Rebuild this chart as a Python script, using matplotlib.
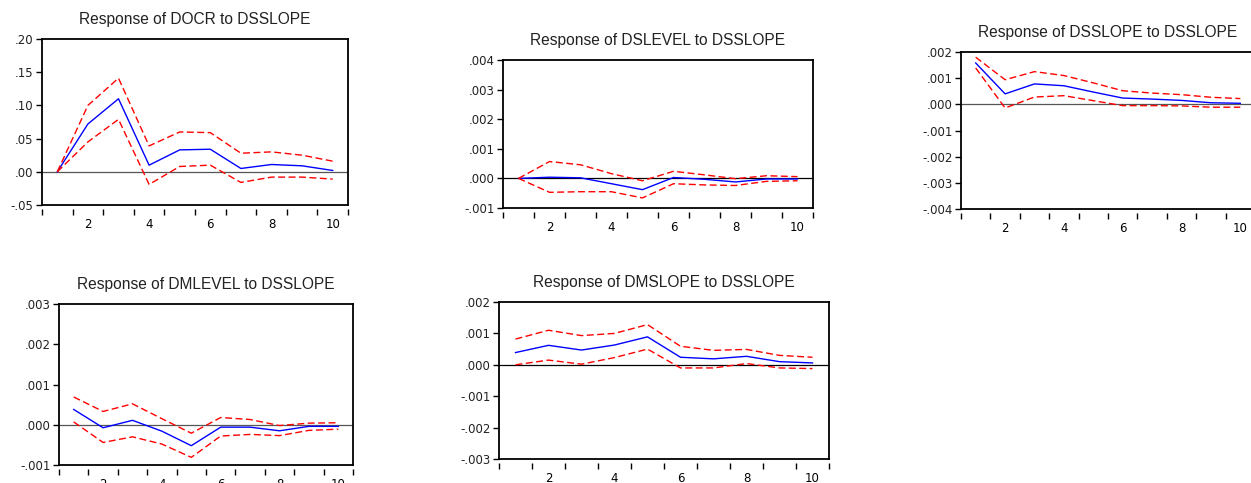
import matplotlib.pyplot as plt
import numpy
from matplotlib.ticker import FuncFormatter

periods = [1, 2, 3, 4, 5, 6, 7, 8, 9, 10]

# Response of DOCR to DSSLOPE
docrResp = [0.0, 0.072, 0.110, 0.010, 0.033, 0.034, 0.005, 0.011, 0.009, 0.002]
docrUpper = [0.0, 0.100, 0.141, 0.039, 0.060, 0.059, 0.028, 0.030, 0.025, 0.016]
docrLower = [0.0, 0.045, 0.079, -0.019, 0.008, 0.010, -0.016, -0.008, -0.008, -0.011]

# Response of DSLEVEL to DSSLOPE
dslevelResp = [0.0, 0.00004, 0.00002, -0.00018, -0.00038, 0.00003, -0.00003, -0.00012, -0.00002, -0.00002]
dslevelUpper = [0.0, 0.00057, 0.00046, 0.00016, -0.00008, 0.00024, 0.00012, -0.00001, 0.00009, 0.00006]
dslevelLower = [0.0, -0.00047, -0.00045, -0.00045, -0.00066, -0.00018, -0.00022, -0.00024, -0.00010, -0.00008]

# Response of DSSLOPE to DSSLOPE
dsslopeResp = [0.00158, 0.00040, 0.00078, 0.00071, 0.00047, 0.00024, 0.00020, 0.00015, 0.00006, 0.00004]
dsslopeUpper = [0.00180, 0.00094, 0.00125, 0.00110, 0.00082, 0.00052, 0.00043, 0.00037, 0.00027, 0.00022]
dsslopeLower = [0.00139, -0.00014, 0.00028, 0.00033, 0.00014, -0.00005, -0.00005, -0.00006, -0.00011, -0.00011]

# Response of DMLEVEL to DSSLOPE
dmlevelResp = [0.00038, -0.000075, 0.00011, -0.00016, -0.00052, -0.00006, -0.00006, -0.00015, -0.00004, -0.00004]
dmlevelUpper = [0.00069, 0.00033, 0.00052, 0.00015, -0.00021, 0.00018, 0.00013, -0.00002, 0.00004, 0.00005]
dmlevelLower = [0.00007, -0.00044, -0.00030, -0.00048, -0.00081, -0.00028, -0.00024, -0.00027, -0.00014, -0.00011]

# Response of DMSLOPE to DSSLOPE
dmslopeResp = [0.00039, 0.00062, 0.00047, 0.00063, 0.00089, 0.00024, 0.00019, 0.00027, 0.00010, 0.00006]
dmslopeUpper = [0.00082, 0.00110, 0.00093, 0.00100, 0.00128, 0.00059, 0.00046, 0.00049, 0.00030, 0.00024]
dmslopeLower = [0.0, 0.00015, 0.00002, 0.00023, 0.00050, -0.00010, -0.00010, 0.00004, -0.00010, -0.00012]

W, H = 1251.0, 483.0


def boxToRect(left, top, right, bottom):
    # pixel box -> figure fraction
    return [left / W, 1 - bottom / H, (right - left) / W, (bottom - top) / H]


def noLeadingZero(decimals):
    def fmt(v, pos):
        s = ('%.' + str(decimals) + 'f') % v
        if s.startswith('-0'):
            s = '-' + s[2:]
        elif s.startswith('0'):
            s = s[1:]
        return s
    return FuncFormatter(fmt)


def drawPanel(fig, box, title, resp, upper, lower, yticks, decimals, zeroColor='#555555'):
    ax = fig.add_axes(boxToRect(*box))
    ax.plot(periods, resp, color='#0000ff', lw=1.0, zorder=3)
    ax.plot(periods, upper, color='#ff0000', lw=1.0, ls=(0, (5, 2.5)), zorder=3)
    ax.plot(periods, lower, color='#ff0000', lw=1.0, ls=(0, (5, 2.5)), zorder=3)
    ax.axhline(0, color=zeroColor, lw=0.9, zorder=2)

    ax.set_xlim(0.5, 10.5)
    ax.set_ylim(yticks[0], yticks[-1])
    ax.set_yticks(yticks)
    ax.yaxis.set_major_formatter(noLeadingZero(decimals))

    ax.set_xticks([2, 4, 6, 8, 10])
    ax.set_xticks(numpy.arange(0.5, 11, 1.0), minor=True)
    ax.tick_params(axis='x', which='major', length=0, pad=6, labelsize=8.5)
    ax.tick_params(axis='x', which='minor', length=4, width=1, direction='out')
    ax.tick_params(axis='y', length=4, width=1, pad=2, labelsize=8.5)
    for lab in ax.get_xticklabels() + ax.get_yticklabels():
        lab.set_family('DejaVu Sans')
        lab.set_color('#222222')

    # frame drawn separately so the x ticks sit just below it
    ax.spines['bottom'].set_position(('outward', 3))
    ax.spines['bottom'].set_visible(False)
    for s in ['left', 'top', 'right']:
        ax.spines[s].set_linewidth(1.3)
    ax.plot([0, 1], [0, 0], transform=ax.transAxes, color='black', lw=1.3, clip_on=False, zorder=4)

    ax.set_title(title, fontsize=11.2, family='Liberation Sans', pad=11, color='#222222')
    return ax


fig = plt.figure(figsize=(12.51, 4.83), dpi=100)

drawPanel(fig, (42, 39, 348, 205), 'Response of DOCR to DSSLOPE',
          docrResp, docrUpper, docrLower, [-0.05, 0.0, 0.05, 0.10, 0.15, 0.20], 2)
drawPanel(fig, (503, 60, 813, 208), 'Response of DSLEVEL to DSSLOPE',
          dslevelResp, dslevelUpper, dslevelLower, [-0.001, 0.0, 0.001, 0.002, 0.003, 0.004], 3,
          zeroColor='black')
drawPanel(fig, (961, 52, 1255, 209), 'Response of DSSLOPE to DSSLOPE',
          dsslopeResp, dsslopeUpper, dsslopeLower,
          [-0.004, -0.003, -0.002, -0.001, 0.0, 0.001, 0.002], 3)
drawPanel(fig, (59, 304, 353, 465), 'Response of DMLEVEL to DSSLOPE',
          dmlevelResp, dmlevelUpper, dmlevelLower, [-0.001, 0.0, 0.001, 0.002, 0.003], 3)
drawPanel(fig, (499, 302, 829, 459), 'Response of DMSLOPE to DSSLOPE',
          dmslopeResp, dmslopeUpper, dmslopeLower,
          [-0.003, -0.002, -0.001, 0.0, 0.001, 0.002], 3, zeroColor='black')

fig.savefig('out.png', dpi=100)
